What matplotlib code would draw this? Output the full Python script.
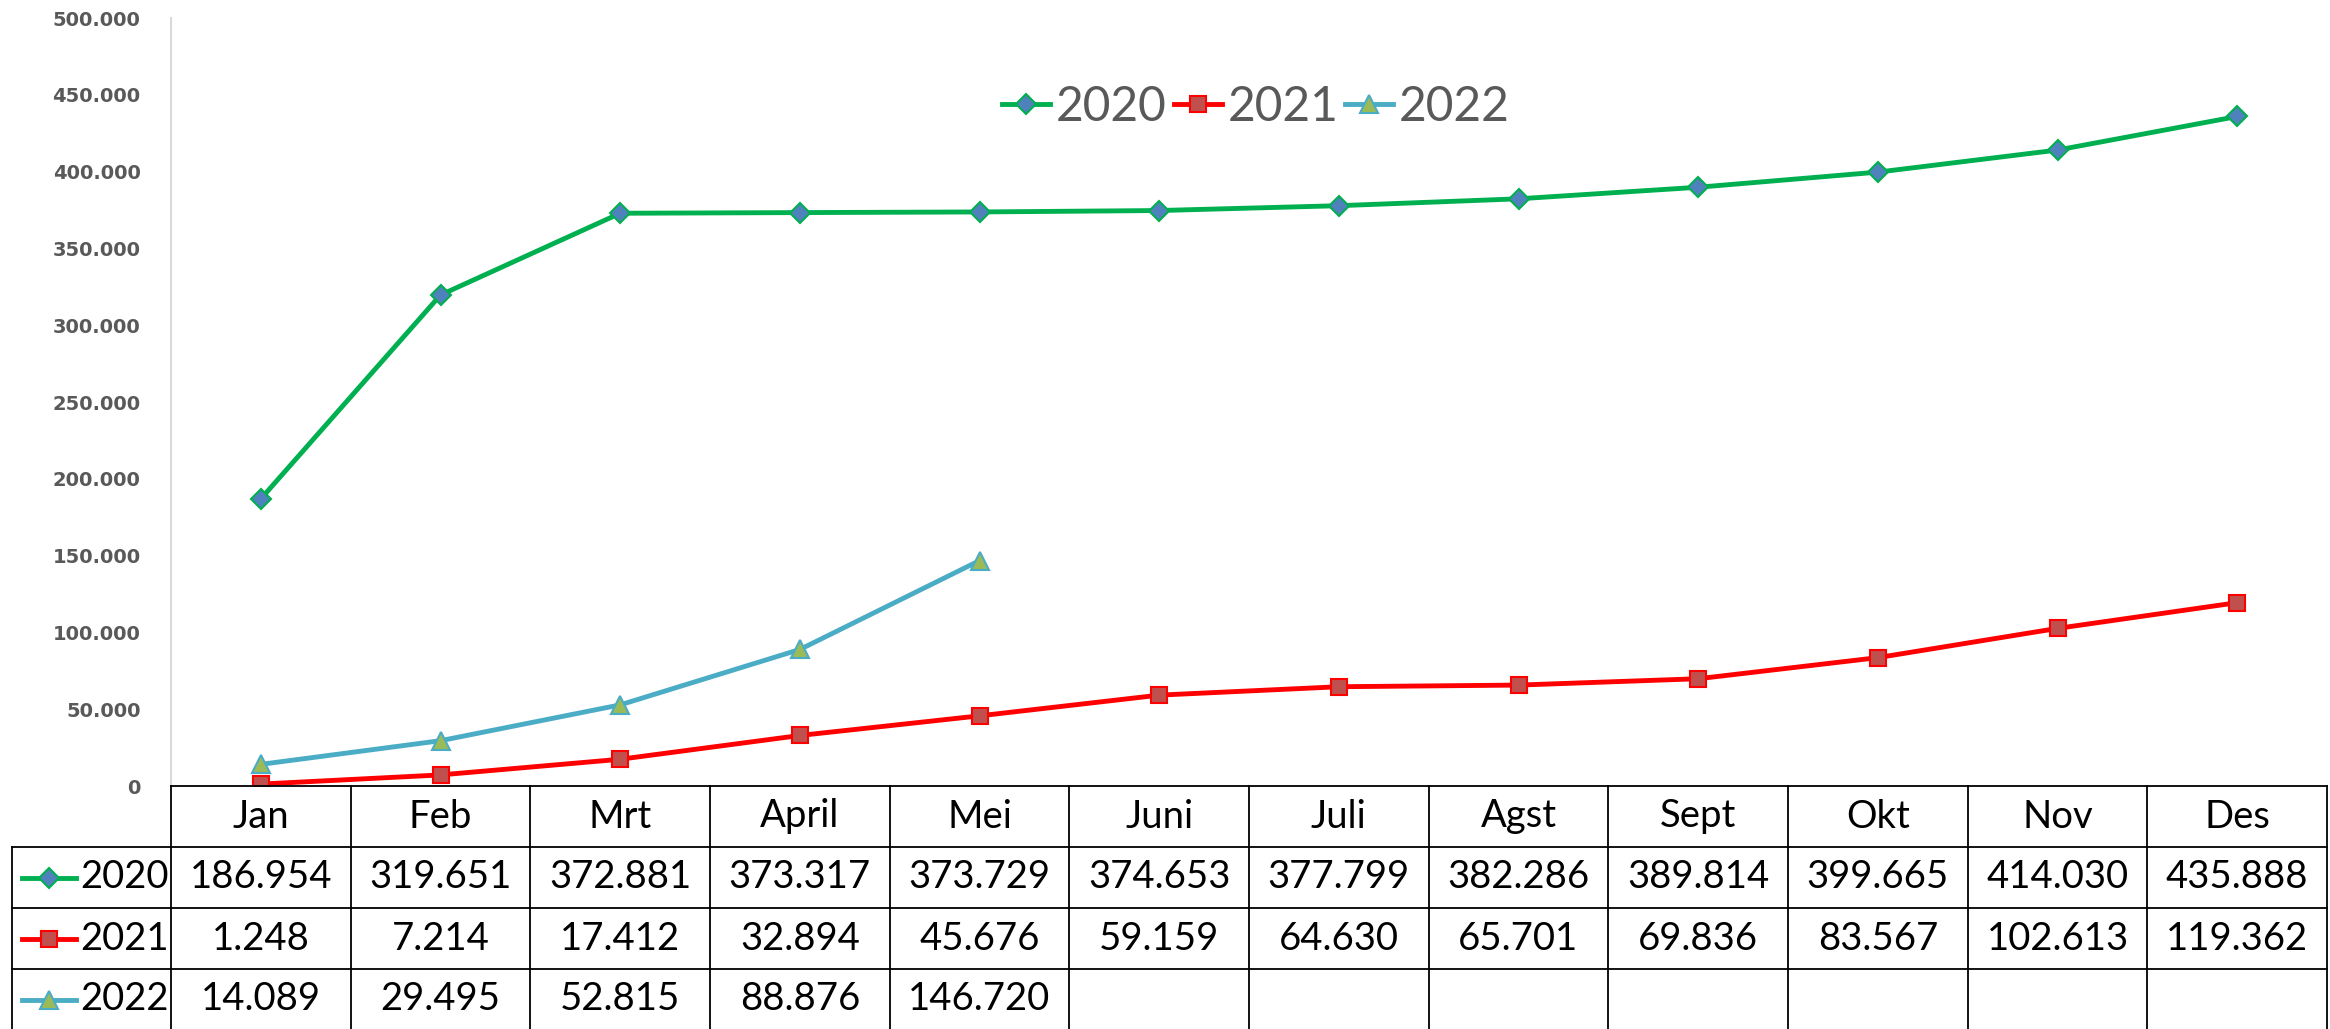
import matplotlib
matplotlib.use("Agg")
import matplotlib.pyplot as plt

# data
months = ["Jan", "Feb", "Mrt", "April", "Mei", "Juni", "Juli", "Agst", "Sept", "Okt", "Nov", "Des"]
v2020 = [186954, 319651, 372881, 373317, 373729, 374653, 377799, 382286, 389814, 399665, 414030, 435888]
v2021 = [1248, 7214, 17412, 32894, 45676, 59159, 64630, 65701, 69836, 83567, 102613, 119362]
v2022 = [14089, 29495, 52815, 88876, 146720]
years = ["2020", "2021", "2022"]
yticks = [0, 50000, 100000, 150000, 200000, 250000, 300000, 350000, 400000, 450000, 500000]

# styles
styles = [
    dict(color="#00B050", marker="D", mfc="#4F81BD", mec="#00B050", ms=10),
    dict(color="#FF0000", marker="s", mfc="#C0504D", mec="#FF0000", ms=11),
    dict(color="#4BACC6", marker="^", mfc="#9BBB59", mec="#4BACC6", ms=13),
]

def fmt(v):
    return "{:,}".format(v).replace(",", ".")

W, H = 2330, 1029
fig = plt.figure(figsize=(W / 100, H / 100), dpi=100)
plt.rcParams['font.family'] = ['Lato', 'DejaVu Sans']

x_left, x_right = 171, 2327
y_top, y_zero = 18, 786
ax = fig.add_axes([x_left / W, (H - y_zero) / H, (x_right - x_left) / W, (y_zero - y_top) / H])

series = [v2020, v2021, v2022]
for name, vals, st in zip(years, series, styles):
    ax.plot(range(len(vals)), vals, label=name, lw=3.5, markeredgewidth=1.5, **st)

ax.set_xlim(-0.5, 11.5)
ax.set_ylim(0, 500000)
ax.set_yticks(yticks)
ax.set_yticklabels([fmt(t) for t in yticks], family='DejaVu Sans', fontweight='bold',
                   fontsize=14, color="#595959")
ax.tick_params(axis='y', length=0, pad=22)
ax.set_xticks([])
for s in ["top", "right", "bottom"]:
    ax.spines[s].set_visible(False)
ax.spines["left"].set_color("#D9D9D9")
ax.spines["left"].set_linewidth(1.5)

leg = ax.legend(loc="center", bbox_to_anchor=(1256 / W, 1 - 107 / H), bbox_transform=fig.transFigure,
                ncol=3, frameon=False, fontsize=34.5, labelcolor="#595959",
                handlelength=1.0, handletextpad=0.12, columnspacing=0.15)

# data table under the chart
row_h = 61
tax = fig.add_axes([x_left / W, 0, (x_right - x_left) / W, (H - y_zero) / H])
tax.set_xlim(-0.5, 11.5)
tax.set_ylim((H - y_zero) / row_h, 0)
tax.axis("off")
col_w = (x_right - x_left) / 12
x_tab = -0.5 - (x_left - 12) / col_w
lk = dict(color="black", lw=1.3, clip_on=False)

# header row
tax.plot([-0.5, 11.5], [0, 0], **lk)
for i in range(13):
    tax.plot([i - 0.5, i - 0.5], [0, 4], **lk)
tax.plot([x_tab, x_tab], [1, 4], **lk)
for r in range(1, 4):
    tax.plot([x_tab, 11.5], [r, r], **lk)
for i, m in enumerate(months):
    tax.text(i, 0.5, m, ha="center", va="center", fontsize=27.5, color="black")

px = lambda p: -0.5 + (p - x_left) / col_w
for r, (name, vals, st) in enumerate(zip(years, series, styles)):
    yc = r + 1.5
    tax.plot([px(22), px(76)], [yc, yc], lw=3.5, clip_on=False, color=st["color"])
    tax.plot([px(49)], [yc], lw=0, markeredgewidth=1.5, clip_on=False, **st)
    tax.text(px(80), yc, name, ha="left", va="center", fontsize=27.5, color="black")
    for i, v in enumerate(vals):
        tax.text(i, yc, fmt(v), ha="center", va="center", fontsize=27.5, color="black")

fig.savefig("out.png", dpi=100)
